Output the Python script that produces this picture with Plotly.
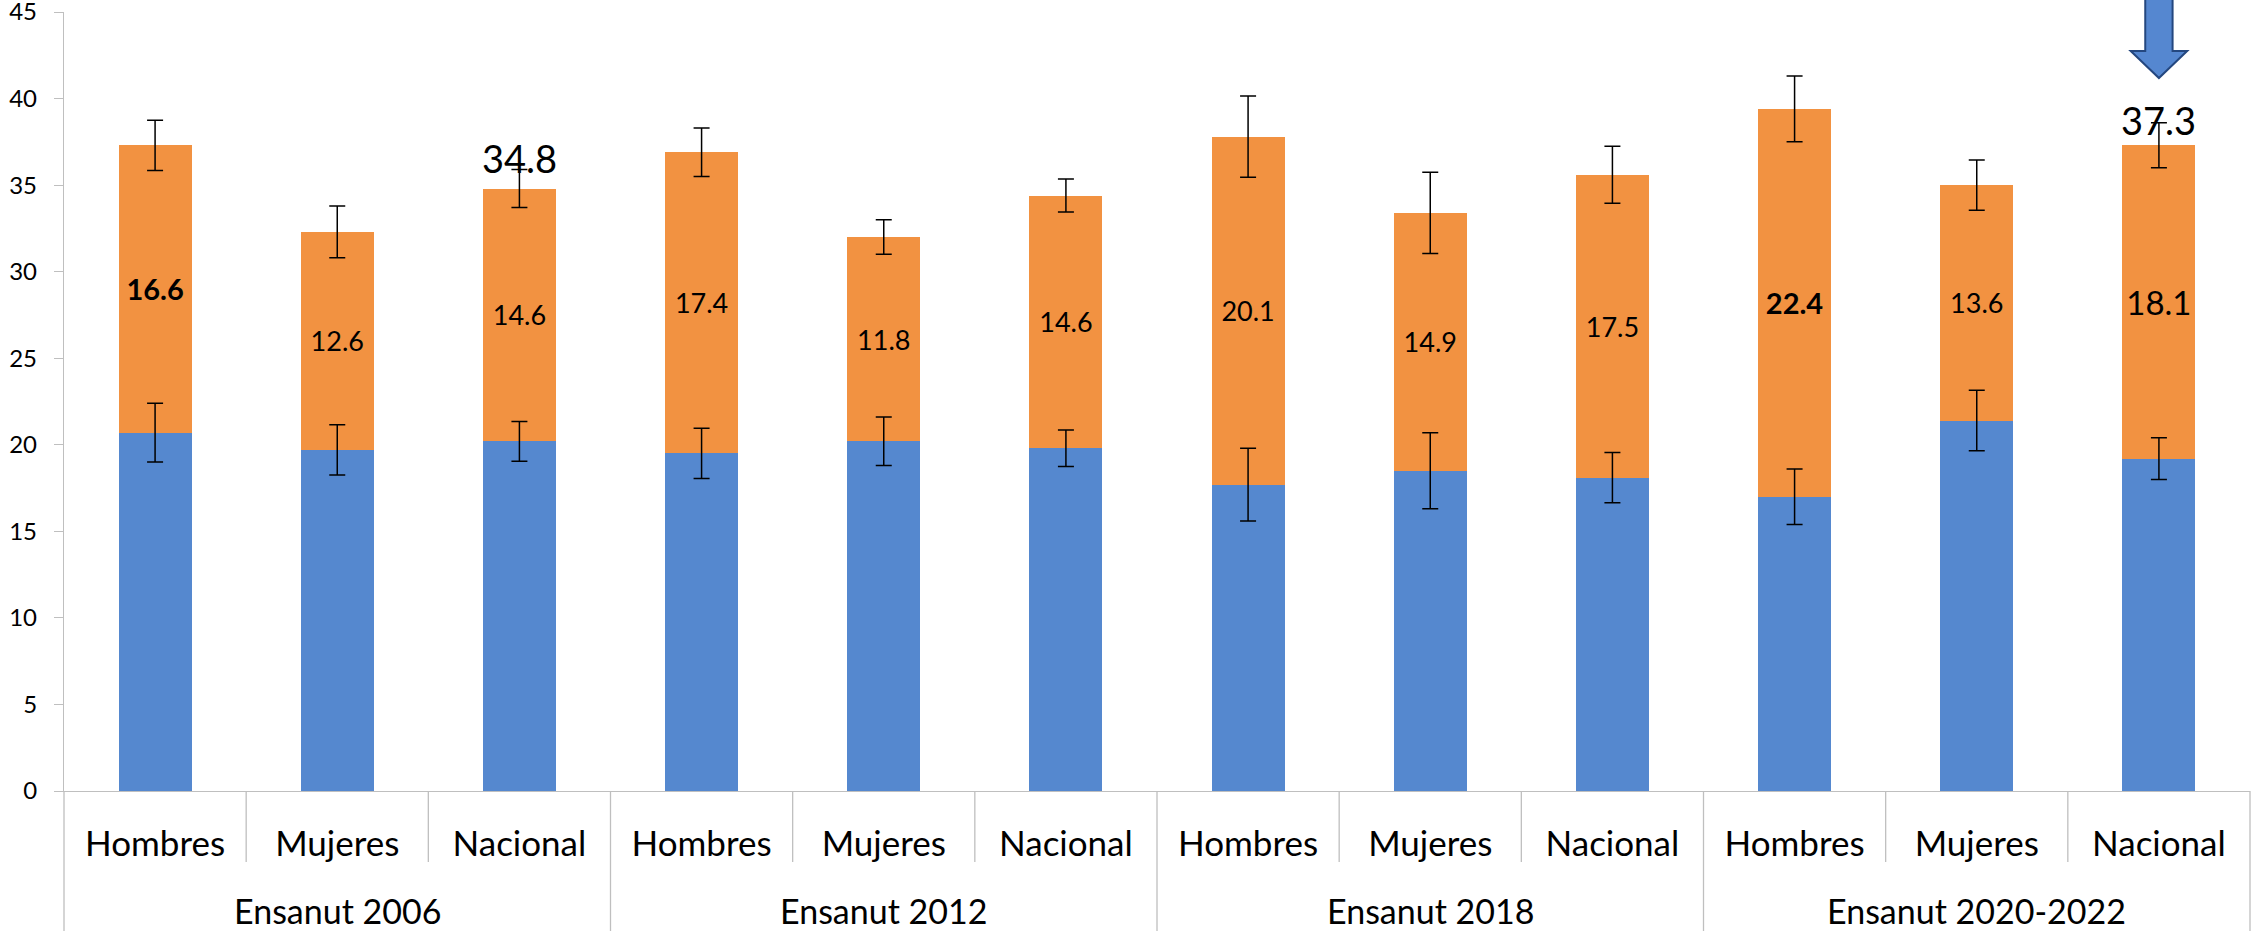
import plotly.graph_objects as go

# ---------------- data ----------------
groups = ["Ensanut 2006", "Ensanut 2012", "Ensanut 2018", "Ensanut 2020-2022"]
categories = ["Hombres", "Mujeres", "Nacional"]

blue_values = [20.7, 19.7, 20.2, 19.5, 20.2, 19.8, 17.7, 18.5, 18.1, 17.0, 21.4, 19.2]
orange_values = [16.6, 12.6, 14.6, 17.4, 11.8, 14.6, 20.1, 14.9, 17.5, 22.4, 13.6, 18.1]
blue_err = [1.7, 1.45, 1.15, 1.45, 1.4, 1.05, 2.1, 2.2, 1.45, 1.6, 1.75, 1.2]
total_err = [1.45, 1.5, 1.1, 1.4, 1.0, 0.95, 2.35, 2.35, 1.65, 1.9, 1.45, 1.3]

bold_idx = [0, 9]          # orange labels shown in bold
large_idx = [11]           # orange label shown larger
total_label_idx = [2, 11]  # totals written above the bar
arrow_idx = 11
y_ticks = list(range(0, 50, 5))

# ---------------- style ----------------
BLUE = "#5588CF"
ORANGE = "#F29241"
AXIS = "#BFBFBF"
FONT = "Lato, Carlito, Calibri, sans-serif"
W, H = 2264, 931
ML, MR, MT, MB = 64, 14, 12, 140
PH = H - MT - MB

n = len(groups) * len(categories)
x = list(range(n))
cat_text = [c for g in groups for c in categories]
totals = [round(b + o, 1) for b, o in zip(blue_values, orange_values)]

orange_text = [(f"<b>{v:.1f}</b>" if i in bold_idx else f"{v:.1f}") for i, v in enumerate(orange_values)]
orange_sizes = [33 if i in large_idx else (29 if i in bold_idx else 27) for i in range(n)]

fig = go.Figure()
fig.add_trace(go.Bar(x=x, y=blue_values, marker=dict(color=BLUE, line=dict(width=0)),
                     hoverinfo="skip", showlegend=False))
fig.add_trace(go.Bar(x=x, y=orange_values, marker=dict(color=ORANGE, line=dict(width=0)),
                     text=orange_text, textposition="inside", insidetextanchor="middle",
                     textangle=0, constraintext="none",
                     textfont=dict(family=FONT, color="black", size=orange_sizes),
                     hoverinfo="skip", showlegend=False))

# error bars drawn on top of the stacked bars
fig.add_trace(go.Scatter(x=x, y=blue_values, mode="markers", marker=dict(size=1, opacity=0),
                         error_y=dict(type="data", array=blue_err, color="black", thickness=1.5, width=8),
                         hoverinfo="skip", showlegend=False))
fig.add_trace(go.Scatter(x=x, y=totals, mode="markers", marker=dict(size=1, opacity=0),
                         error_y=dict(type="data", array=total_err, color="black", thickness=1.5, width=8),
                         hoverinfo="skip", showlegend=False))

shapes = []
# category / group dividers below the axis
for k in range(n + 1):
    xp = k / n
    y1 = -(MB) / PH if k % len(categories) == 0 else -71 / PH
    shapes.append(dict(type="line", xref="paper", yref="paper", x0=xp, x1=xp, y0=0, y1=y1,
                       line=dict(color=AXIS, width=1.3)))

# arrow pointing at the highlighted bar
a = arrow_idx
sh, hh = 0.075, 0.155
top = 1.02
base = (PH + MT - 51) / PH
tip = (PH + MT - 78) / PH
path = (f"M {a-sh},{top} L {a-sh},{base} L {a-hh},{base} L {a},{tip} "
        f"L {a+hh},{base} L {a+sh},{base} L {a+sh},{top} Z")
shapes.append(dict(type="path", xref="x", yref="paper", path=path,
                   fillcolor="#5587D0", line=dict(color="#24477F", width=2)))

annotations = []
for gi, g in enumerate(groups):
    annotations.append(dict(x=gi * len(categories) + 1, xref="x", y=-(911 - 791) / PH, yref="paper",
                            text=g, showarrow=False, yanchor="middle",
                            font=dict(family=FONT, size=34, color="black")))
shift = {2: 31, 11: 25}
for i in total_label_idx:
    annotations.append(dict(x=i, xref="x", y=totals[i], yref="y", text=f"{totals[i]:.1f}",
                            showarrow=False, yanchor="middle", yshift=shift.get(i, 28),
                            font=dict(family=FONT, size=38, color="black")))

fig.update_layout(
    width=W, height=H, barmode="stack", bargap=0.6,
    margin=dict(l=ML, r=MR, t=MT, b=MB, pad=0, autoexpand=False),
    paper_bgcolor="white", plot_bgcolor="white",
    font=dict(family=FONT, color="black"),
    shapes=shapes, annotations=annotations, hovermode=False,
)
fig.update_xaxes(range=[-0.5, n - 0.5], tickmode="array", tickvals=x, ticktext=cat_text,
                 automargin=False,
                 showgrid=False, zeroline=False, showline=True, linecolor=AXIS, linewidth=1.3,
                 ticks="", ticklabelstandoff=22, tickfont=dict(family=FONT, size=35, color="black"))
fig.update_yaxes(range=[0, 45], tickmode="array", tickvals=y_ticks,
                 automargin=False,
                 showgrid=False, zeroline=False, showline=True, linecolor=AXIS, linewidth=1.3,
                 ticks="outside", ticklen=9, tickcolor=AXIS, tickwidth=1.3,
                 ticklabeloverflow="allow",
                 ticklabelstandoff=12, tickfont=dict(family=FONT, size=24, color="black"))

fig.write_html("out.html", config={"displayModeBar": False},
               post_script="document.body.style.margin='0';document.body.style.overflow='hidden';")
